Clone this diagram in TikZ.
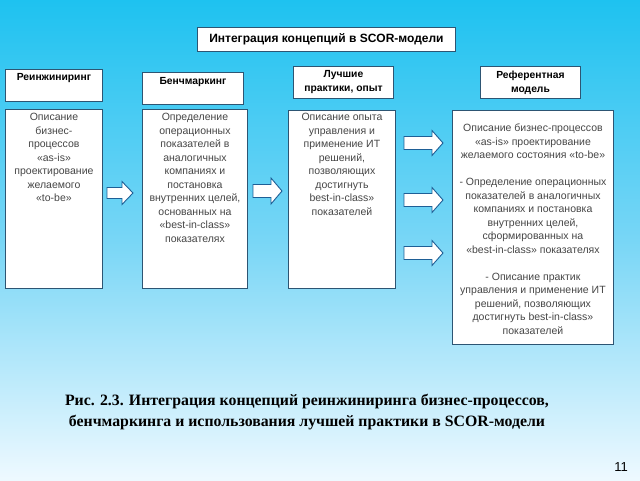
\documentclass[tikz,border=0pt]{standalone}
\usepackage{fontspec}
\setmainfont{Liberation Sans}
\newfontfamily\capfont{Liberation Serif}
\usetikzlibrary{positioning}
\definecolor{bgtop}{RGB}{30,194,240}
\definecolor{bgmid}{RGB}{120,214,246}
\definecolor{bgbot}{RGB}{238,249,255}
\definecolor{boxline}{RGB}{45,85,115}
\definecolor{arrline}{RGB}{30,95,150}
\definecolor{txtgray}{RGB}{70,70,70}
\tikzset{
  wbox/.style={draw=boxline, line width=0.9pt, fill=white, inner sep=0pt},
  hdtext/.style={font=\fontsize{10.3}{12}\selectfont\bfseries, text=black, align=center, inner sep=0pt},
  ctext/.style={font=\fontsize{10.5}{13.5}\selectfont, text=txtgray, align=center, inner sep=0pt},
  blk/.style={draw=arrline, line width=0.9pt, fill=white, line join=miter},
}
\newcommand{\blockarrow}[5]{% x1 x2 ycenter halfheight halfshaft
  \draw[blk] (#1,#3-#5) -- (#2-11,#3-#5) -- (#2-11,#3-#4) -- (#2,#3) -- (#2-11,#3+#4) -- (#2-11,#3+#5) -- (#1,#3+#5) -- cycle;}
\begin{document}
\begin{tikzpicture}[x=1pt,y=-1pt]
\useasboundingbox (0,0) rectangle (640,480);
\shade[top color=bgtop, bottom color=bgbot, middle color=bgmid, shading angle=0] (0,0) rectangle (640,480);
% title
\node[wbox, minimum width=258, minimum height=24, anchor=north west] (title) at (197,27) {};
\node[font=\fontsize{12}{14}\selectfont\bfseries, inner sep=0pt] (titlet) at (title.center) {Интеграция концепций в SCOR-модели};
% headers
\node[wbox, minimum width=97, minimum height=32, anchor=north west] (h1) at (5,69) {};
\node[hdtext, anchor=north] (h1t) at ([yshift=-4]h1.north) {Реинжиниринг};
\node[wbox, minimum width=101, minimum height=32, anchor=north west] (h2) at (142,72) {};
\node[hdtext, anchor=north] (h2t) at ([yshift=-5]h2.north) {Бенчмаркинг};
\node[wbox, minimum width=100, minimum height=32, anchor=north west] (h3) at (293,66) {};
\node[hdtext, font=\fontsize{10.3}{14}\selectfont\bfseries] (h3t) at (h3.center) {Лучшие\\практики, опыт};
\node[wbox, minimum width=100, minimum height=32, anchor=north west] (h4) at (480,66) {};
\node[hdtext, font=\fontsize{10.3}{14}\selectfont\bfseries] (h4t) at (h4.center) {Референтная\\модель};
% content boxes
\node[wbox, minimum width=97, minimum height=179, anchor=north west] (b1) at (5,109) {};
\node[ctext, anchor=north] (b1t) at ([yshift=-4]b1.north) {Описание\\бизнес-\\процессов\\«as-is»\\проектирование\\желаемого\\«to-be»};
\node[wbox, minimum width=105, minimum height=179, anchor=north west] (b2) at (142,109) {};
\node[ctext, anchor=north] (b2t) at ([yshift=-4]b2.north) {Определение\\операционных\\показателей в\\аналогичных\\компаниях и\\постановка\\внутренних целей,\\основанных на\\«best-in-class»\\показателях};
\node[wbox, minimum width=107, minimum height=178, anchor=north west] (b3) at (288,110) {};
\node[ctext, anchor=north] (b3t) at ([yshift=-3]b3.north) {Описание опыта\\управления и\\применение ИТ\\решений,\\позволяющих\\достигнуть\\best-in-class»\\показателей};
\node[wbox, minimum width=161, minimum height=234, anchor=north west] (b4) at (452,110) {};
\node[ctext, anchor=north] (b4t) at ([yshift=-14]b4.north) {Описание бизнес-процессов\\«as-is» проектирование\\желаемого состояния «to-be»\\[13.5pt]- Определение операционных\\показателей в аналогичных\\компаниях и постановка\\внутренних целей,\\сформированных на\\«best-in-class» показателях\\[13.5pt]- Описание практик\\управления и применение ИТ\\решений, позволяющих\\достигнуть best-in-class»\\показателей};
% block arrows
\blockarrow{107}{133}{193}{11.5}{5.5}
\blockarrow{253}{282}{191}{13}{6.5}
\blockarrow{404}{443}{143}{12.5}{6.5}
\blockarrow{404}{443}{200}{12.5}{6.5}
\blockarrow{404}{443}{253}{12.5}{6.5}
% caption
\node[font=\capfont\fontsize{15.8}{20.5}\selectfont\bfseries, align=center, inner sep=0pt] (cap) at (307,412) {Рис. 2.3. Интеграция концепций реинжиниринга бизнес-процессов,\\бенчмаркинга и использования лучшей практики в SCOR-модели};
\node[font=\fontsize{13}{15}\selectfont, inner sep=0pt] (pg) at (621,467) {11};
\end{tikzpicture}
\end{document}
